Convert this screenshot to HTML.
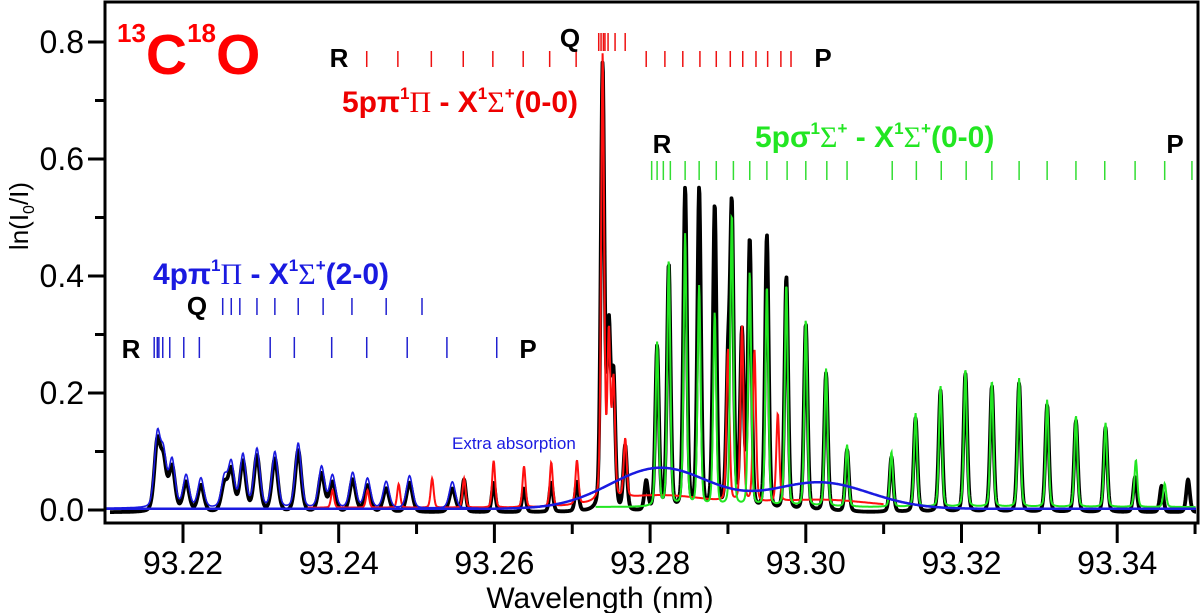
<!DOCTYPE html>
<html><head><meta charset="utf-8">
<style>
html,body{margin:0;padding:0;background:#fff;}
svg{display:block;font-family:"Liberation Sans",Arial,sans-serif;}
</style></head>
<body>
<svg id="chart" width="1200" height="613" viewBox="0 0 1200 613" xmlns="http://www.w3.org/2000/svg">
  <g id="ticks-layer"></g>
  <g id="series-layer"></g>
  <g id="marker-layer"></g>
  <rect x="105" y="2" width="1093" height="521" fill="none" stroke="#000" stroke-width="3"/>
  <g id="labels"></g>
  <text x="117" y="74" fill="#ff0000" font-weight="bold" font-size="57"><tspan font-size="26" dy="-32">13</tspan><tspan dy="32">C</tspan><tspan font-size="26" dy="-32">18</tspan><tspan dy="32">O</tspan></text>
  <text x="342" y="112" fill="#ee0000" font-weight="bold" font-size="30">5pπ<tspan font-size="17" dy="-13">1</tspan><tspan dy="13" font-family="Liberation Serif, serif" font-weight="normal">Π</tspan> - X<tspan font-size="17" dy="-13">1</tspan><tspan dy="13" font-family="Liberation Serif, serif" font-weight="normal">Σ</tspan><tspan font-size="17" dy="-13">+</tspan><tspan dy="13">(0-0)</tspan></text>
  <text x="755" y="147" fill="#22e622" font-weight="bold" font-size="30">5pσ<tspan font-size="17" dy="-13">1</tspan><tspan dy="13" font-family="Liberation Serif, serif" font-weight="normal">Σ</tspan><tspan font-size="17" dy="-13">+</tspan><tspan dy="13"> - X</tspan><tspan font-size="17" dy="-13">1</tspan><tspan dy="13" font-family="Liberation Serif, serif" font-weight="normal">Σ</tspan><tspan font-size="17" dy="-13">+</tspan><tspan dy="13">(0-0)</tspan></text>
  <text x="153" y="284" fill="#1a1ae0" font-weight="bold" font-size="30">4pπ<tspan font-size="17" dy="-13">1</tspan><tspan dy="13" font-family="Liberation Serif, serif" font-weight="normal">Π</tspan> - X<tspan font-size="17" dy="-13">1</tspan><tspan dy="13" font-family="Liberation Serif, serif" font-weight="normal">Σ</tspan><tspan font-size="17" dy="-13">+</tspan><tspan dy="13">(2-0)</tspan></text>
  <text x="452" y="449" fill="#1a1ae0" font-size="17">Extra absorption</text>
  <text x="600" y="608" text-anchor="middle" font-size="30">Wavelength (nm)</text>
  <text transform="translate(28,216) rotate(-90)" text-anchor="middle" font-size="26">ln(I<tspan font-size="16" dy="6">0</tspan><tspan dy="-6">/I)</tspan></text>
</svg>
<script>
// ---- data ----
const xTicksMajor = [93.22, 93.24, 93.26, 93.28, 93.30, 93.32, 93.34];
const xTickLabels = ["93.22","93.24","93.26","93.28","93.30","93.32","93.34"];
const yTicksMajor = [0.0, 0.2, 0.4, 0.6, 0.8];
const yTickLabels = ["0.0","0.2","0.4","0.6","0.8"];

const bluePos = [93.2167,93.2175,93.2186,93.2204,93.2223,93.2253,93.2262,93.2277,93.2295,93.2318,93.2348,93.2378,93.2392,93.2418,93.2437,93.2461,93.2491,93.2546];
const blueH   = [0.12,0.085,0.08,0.055,0.05,0.05,0.075,0.09,0.10,0.095,0.11,0.07,0.055,0.06,0.05,0.045,0.055,0.045];

const redPos = [93.2392,93.2437,93.2477,93.2520,93.2561,93.2599,93.2638,93.2673,93.2706,93.2739,93.2747,93.2753,93.2768,93.2900,93.2918,93.2934,93.2964];
const redH   = [0.03,0.03,0.04,0.05,0.05,0.08,0.07,0.075,0.075,0.76,0.28,0.20,0.10,0.26,0.30,0.26,0.15];

const greenPos = [93.2809,93.2824,93.2845,93.2863,93.2883,93.2905,93.2928,93.2950,93.2975,93.3000,93.3026,93.3053,93.3110,93.3141,93.3173,93.3205,93.3239,93.3274,93.3310,93.3347,93.3385,93.3424,93.3461];
const greenH   = [0.28,0.42,0.465,0.376,0.33,0.50,0.40,0.376,0.38,0.32,0.236,0.106,0.094,0.16,0.207,0.236,0.215,0.22,0.183,0.156,0.144,0.08,0.04];

const blackLeftPos = [93.2167,93.2175,93.2186,93.2204,93.2223,93.2253,93.2262,93.2277,93.2295,93.2318,93.2348,93.2378,93.2392,93.2418,93.2437,93.2461,93.2491,93.2546];
const blackLeftH   = [0.115,0.08,0.075,0.05,0.045,0.045,0.07,0.085,0.095,0.09,0.105,0.065,0.05,0.055,0.045,0.04,0.05,0.04];
const blackPos = [93.2561,93.2599,93.2638,93.2673,93.2706,93.2739,93.2747,93.2753,93.2768,93.2795,
  93.2809,93.2824,93.2845,93.2863,93.2883,93.2900,93.2905,93.2918,93.2928,93.2950,93.2975,93.3000,93.3026,93.3053,93.3110,93.3141,93.3173,93.3205,93.3239,93.3274,93.3310,93.3347,93.3385,93.3423,93.3457,93.3491];
const blackH   = [0.055,0.05,0.04,0.05,0.05,0.76,0.30,0.22,0.11,0.05,
  0.28,0.42,0.55,0.55,0.52,0.22,0.50,0.30,0.46,0.47,0.40,0.32,0.236,0.106,0.094,0.16,0.207,0.236,0.215,0.22,0.183,0.156,0.144,0.06,0.045,0.056];

const extraCenters = [93.2813, 93.3018];
const extraHeights = [0.070, 0.045];
const extraWidths  = [0.0064, 0.0064];

const redRTicks = [93.2436,93.2476,93.2519,93.2560,93.2598,93.2637,93.2671,93.2705];
const redQTicks = [93.2734,93.2737,93.2740,93.2742,93.2746,93.2755,93.2768];
const redPTicks = [93.2795,93.2819,93.2842,93.2864,93.2885,93.2903,93.2919,93.2936,93.2951,93.2968,93.2981];
const greenTicks = [93.2802,93.2809,93.2817,93.2826,93.2845,93.2863,93.2885,93.2907,93.2928,93.2950,93.2976,93.3000,93.3027,93.3053,93.3111,93.3142,93.3174,93.3206,93.3239,93.3274,93.3310,93.3347,93.3384,93.3423,93.3461,93.3496];
const blueQTicks = [93.2251,93.2262,93.2273,93.2295,93.2318,93.2348,93.2380,93.2417,93.2461,93.2507];
const blueRTicks = [93.2163,93.2167,93.2169,93.2174,93.2183,93.2201,93.2221,93.2312,93.2343,93.2391,93.2436,93.2488,93.2539,93.2603];

// ---- axes ----
const X0 = 183, XS = 7785, L0 = 93.22;
const Y0 = 510, YS = 585;
function xS(l){ return X0 + (l - L0) * XS; }
function yS(v){ return Y0 - v * YS; }
function lamAt(px){ return L0 + (px - X0) / XS; }
const NS = "http://www.w3.org/2000/svg";
function mk(tag, attrs, parent){
  const e = document.createElementNS(NS, tag);
  for (const k in attrs) e.setAttribute(k, attrs[k]);
  parent.appendChild(e); return e;
}
const ticks = document.getElementById('ticks-layer');
const labels = document.getElementById('labels');

xTicksMajor.forEach((t, i) => {
  const x = xS(t);
  const ln = mk('line', {x1:x, x2:x, y1:523, y2:543, stroke:'#000', 'stroke-width':3}, ticks);
  
  
  const tx = mk('text', {x:x, y:574, 'text-anchor':'middle', 'font-size':32}, labels);
  tx.textContent = xTickLabels[i];
  
  
  const mx = xS(t - 0.01);
  if (mx > 106) {
    const mn = mk('line', {x1:mx, x2:mx, y1:523, y2:534, stroke:'#000', 'stroke-width':3}, ticks);
    
    
  }
});
{
  const mx = xS(93.35);
  if (mx < 1198) { const mn = mk('line',{x1:mx,x2:mx,y1:523,y2:534,stroke:'#000','stroke-width':3},ticks);   }
}
yTicksMajor.forEach((t, i) => {
  const y = yS(t);
  const ln = mk('line', {x1:88, x2:105, y1:y, y2:y, stroke:'#000', 'stroke-width':3}, ticks);
  
  
  const tx = mk('text', {x:84, y:y+11, 'text-anchor':'end', 'font-size':32}, labels);
  tx.textContent = yTickLabels[i];
  
  
  if (t < 0.8) {
    const my = yS(t + 0.1);
    const mn = mk('line', {x1:95, x2:105, y1:my, y2:my, stroke:'#000', 'stroke-width':3}, ticks);
    
    
  }
});

// ---- spectra ----
function peaks(l, pos, h, w){
  let s = 0;
  for (let i = 0; i < pos.length; i++){
    const d = (l - pos[i]) / w;
    s += h[i] * (0.7 * Math.exp(-0.5 * d * d) + 0.3 / (1 + d * d));
  }
  return s;
}
function extra(l){
  let s = 0;
  for (let i = 0; i < extraCenters.length; i++){
    const d = (l - extraCenters[i]) / extraWidths[i];
    s += extraHeights[i] * Math.exp(-0.5 * d * d);
  }
  return s;
}
function pathFor(fn, x1, x2){
  let d = '';
  for (let px = x1; px <= x2; px += 0.5){
    const v = fn(lamAt(px));
    d += (d ? 'L' : 'M') + px.toFixed(1) + ',' + yS(v).toFixed(1);
  }
  return d;
}
const series = document.getElementById('series-layer');
const blackP = mk('path', {d: pathFor(l => peaks(l, blackLeftPos, blackLeftH, 0.0004) + peaks(l, blackPos, blackH, 0.00024) - 0.004, 110, 1196), fill:'none', stroke:'#000', 'stroke-width':3.8, 'stroke-linejoin':'round'}, series);


const redP = mk('path', {d: pathFor(l => peaks(l, redPos, redH, 0.0002) + 0.004 + 0.3 * extra(l), xS(93.236), xS(93.31)), fill:'none', stroke:'#ff1010', 'stroke-width':2}, series);


const greenP = mk('path', {d: pathFor(l => peaks(l, greenPos, greenH, 0.0002) + 0.005, xS(93.273), 1196), fill:'none', stroke:'#22e622', 'stroke-width':2}, series);


const blueP = mk('path', {d: pathFor(l => peaks(l, bluePos, blueH, 0.0004) + 0.003, 106, xS(93.258)), fill:'none', stroke:'#1a1ae0', 'stroke-width':1.6}, series);


const extraP = mk('path', {d: pathFor(l => extra(l) + 0.002, 106, 1196), fill:'none', stroke:'#1a1ae0', 'stroke-width':2.5}, series);



// ---- line markers ----
const mlayer = document.getElementById('marker-layer');
function markers(arr, y1, y2, color, name){
  arr.forEach(l => {
    const x = xS(l);
    const m = mk('line', {x1:x, x2:x, y1:y1, y2:y2, stroke:color, 'stroke-width':1.5}, mlayer);
    
    
  });
}
markers(redRTicks, 51, 67, '#ee1111', 'red-r-branch-tick');
markers(redQTicks, 33, 51, '#ee1111', 'red-q-branch-tick');
markers(redPTicks, 51, 67, '#ee1111', 'red-p-branch-tick');
markers(greenTicks, 161, 180, '#33dd33', 'green-branch-tick');
markers(blueQTicks, 298, 315, '#2020d0', 'blue-q-branch-tick');
markers(blueRTicks, 337, 358, '#2020d0', 'blue-r-branch-tick');

const branchLabels = [
  ['R', 339, 67, 'red-r-label'], ['Q', 570, 47, 'red-q-label'], ['P', 823, 67, 'red-p-label'],
  ['R', 662, 153, 'green-r-label'], ['P', 1175, 153, 'green-p-label'],
  ['Q', 197, 315, 'blue-q-label'], ['R', 131, 358, 'blue-r-label'], ['P', 528, 358, 'blue-p-label']
];
branchLabels.forEach(b => {
  const t = mk('text', {x:b[1], y:b[2], 'text-anchor':'middle', 'font-size':26, 'font-weight':'bold'}, labels);
  t.textContent = b[0];
  
  
});
</script>
</body></html>
